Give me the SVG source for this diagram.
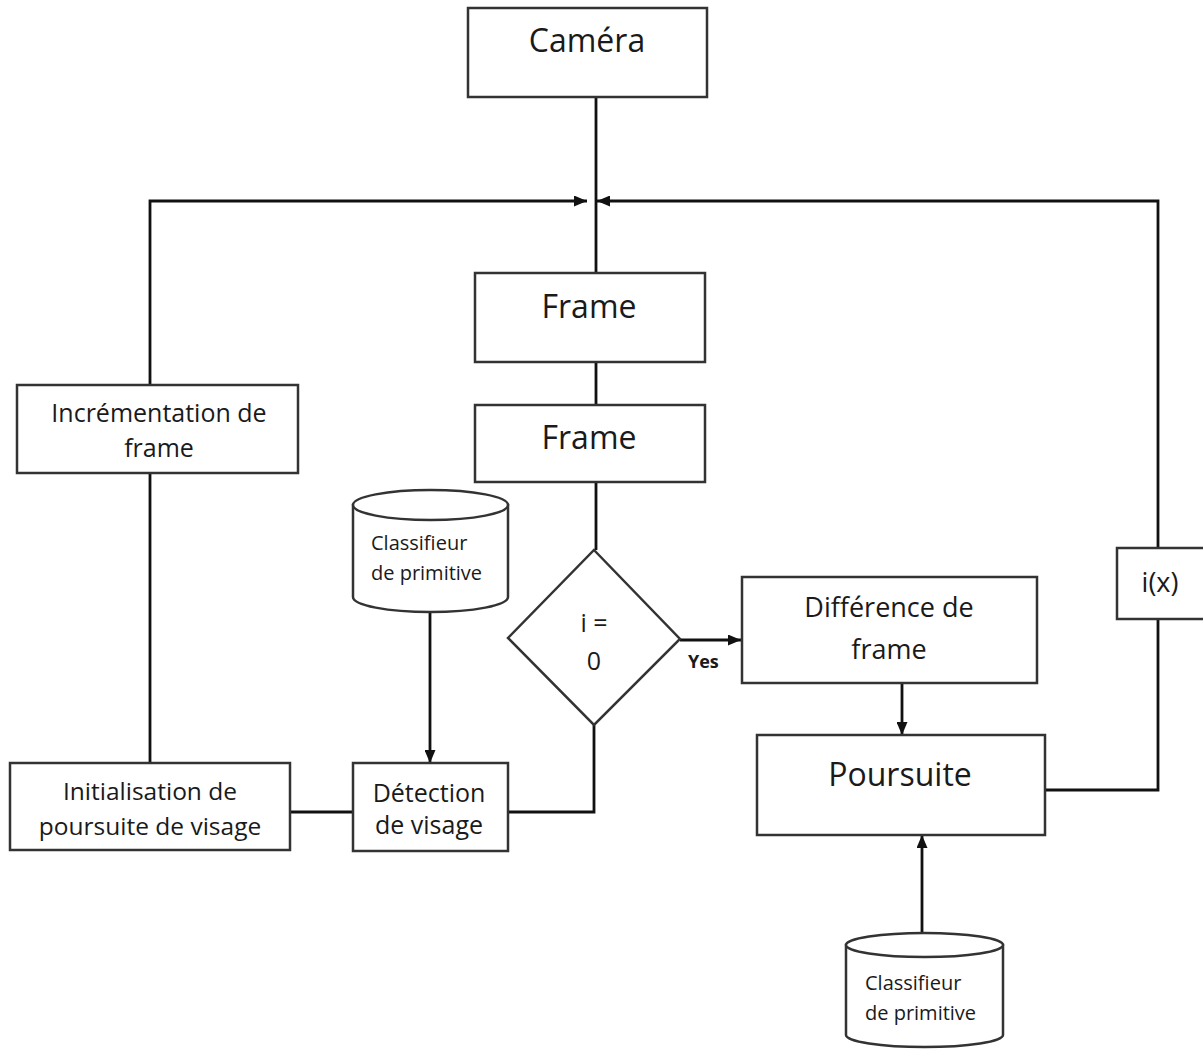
<svg xmlns="http://www.w3.org/2000/svg" width="1203" height="1050" viewBox="0 0 1203 1050">
<style>
.box{fill:#fff;stroke:#333;stroke-width:2.5}
.ln{fill:none;stroke:#111;stroke-width:2.8}
text{font-family:"Open Sans","Noto Sans",sans-serif;fill:#1a1a1a}
.c{text-anchor:middle}
</style>
<defs>
<marker id="ah" viewBox="0 0 13 11" refX="13" refY="5.5" markerWidth="13" markerHeight="11" markerUnits="userSpaceOnUse" orient="auto">
<path d="M0,0 L13,5.5 L0,11 Z" fill="#111"/>
</marker>
</defs>
<rect width="1203" height="1050" fill="#fff"/>
<g id="connectors">
<line class="ln" x1="596" y1="97" x2="596" y2="273"/>
<line class="ln" x1="596" y1="362" x2="596" y2="405"/>
<line class="ln" x1="596" y1="482" x2="596" y2="550"/>
<line class="ln" x1="680" y1="640" x2="741" y2="640" marker-end="url(#ah)"/>
<polyline class="ln" points="594,725 594,812 508,812"/>
<line class="ln" x1="290" y1="812" x2="353" y2="812"/>
<line class="ln" x1="430" y1="612" x2="430" y2="763" marker-end="url(#ah)"/>
<line class="ln" x1="150" y1="763" x2="150" y2="473"/>
<polyline class="ln" points="150,385 150,201 587,201" marker-end="url(#ah)"/>
<line class="ln" x1="902" y1="683" x2="902" y2="735" marker-end="url(#ah)"/>
<polyline class="ln" points="1045,790 1158,790 1158,619"/>
<polyline class="ln" points="1158,548 1158,201 597,201" marker-end="url(#ah)"/>
<line class="ln" x1="922" y1="933" x2="922" y2="835" marker-end="url(#ah)"/>
<text x="688" y="668" font-size="18" font-weight="bold">Yes</text>
</g>
<g id="camera"><rect class="box" x="468" y="8" width="239" height="89"/><text class="c" x="587" y="52" font-size="32">Caméra</text></g>
<g id="frame1"><rect class="box" x="475" y="273" width="230" height="89"/><text class="c" x="589" y="318" font-size="32">Frame</text></g>
<g id="frame2"><rect class="box" x="475" y="405" width="230" height="77"/><text class="c" x="589" y="449" font-size="32">Frame</text></g>
<g id="decision"><polygon class="box" points="594,550 680,639 594,725 508,638"/><text class="c" x="594" y="632" font-size="25">i =</text><text class="c" x="594" y="670" font-size="25">0</text></g>
<g id="difference"><rect class="box" x="742" y="577" width="295" height="106"/><text class="c" x="889" y="617" font-size="27">Différence de</text><text class="c" x="889" y="659" font-size="27">frame</text></g>
<g id="poursuite"><rect class="box" x="757" y="735" width="288" height="100"/><text class="c" x="900" y="786" font-size="32">Poursuite</text></g>
<g id="ix"><rect class="box" x="1117" y="548" width="90" height="71"/><text class="c" x="1160" y="592" font-size="27">i(x)</text></g>
<g id="incrementation"><rect class="box" x="17" y="385" width="281" height="88"/><text class="c" x="159" y="422" font-size="25">Incrémentation de</text><text class="c" x="159" y="457" font-size="25">frame</text></g>
<g id="initialisation"><rect class="box" x="10" y="763" width="280" height="87"/><text class="c" x="150" y="800" font-size="24.5">Initialisation de</text><text class="c" x="150" y="835" font-size="24.5">poursuite de visage</text></g>
<g id="detection"><rect class="box" x="353" y="763" width="155" height="88"/><text class="c" x="429" y="802" font-size="25">Détection</text><text class="c" x="429" y="834" font-size="25">de visage</text></g>
<g id="classifieur1"><path class="box" d="M353,505 L353,597 A77.5,15 0 0 0 508,597 L508,505 Z"/><ellipse class="box" cx="430.5" cy="505" rx="77.5" ry="15"/><text x="371" y="550" font-size="20">Classifieur</text><text x="371" y="580" font-size="20">de primitive</text></g>
<g id="classifieur2"><path class="box" d="M846,945 L846,1035 A78.5,12 0 0 0 1003,1035 L1003,945 Z"/><ellipse class="box" cx="924.5" cy="945" rx="78.5" ry="12"/><text x="865" y="990" font-size="20">Classifieur</text><text x="865" y="1020" font-size="20">de primitive</text></g>
</svg>
